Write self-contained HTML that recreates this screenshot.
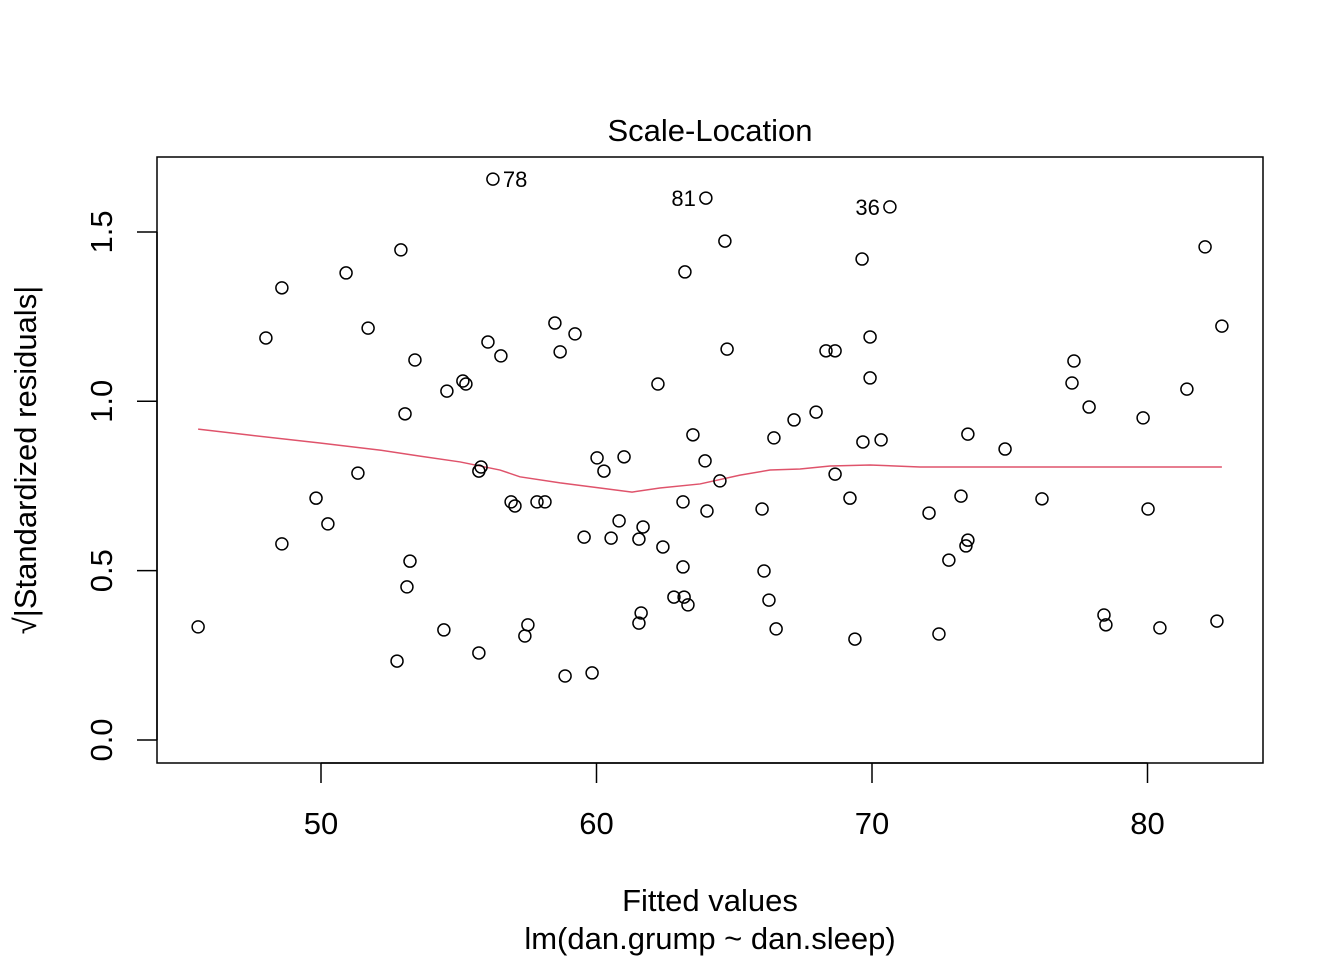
<!DOCTYPE html>
<html><head><meta charset="utf-8"><style>
html,body{margin:0;padding:0;background:#fff}
svg text{font-family:"Liberation Sans",Arial,sans-serif;fill:#000}
</style></head><body>
<svg id="chart" width="1344" height="960" xmlns="http://www.w3.org/2000/svg">
<rect width="1344" height="960" fill="#fff"/>
<text x="710" y="141" font-size="31" text-anchor="middle">Scale-Location</text>
<rect x="157" y="157" width="1106" height="606" fill="none" stroke="#000" stroke-width="1.5"/>
<text x="710" y="911" font-size="31" text-anchor="middle">Fitted values</text>
<text x="710" y="949" font-size="31" text-anchor="middle">lm(dan.grump ~ dan.sleep)</text>
<g transform="translate(36,460) rotate(-90)">
<text x="0" y="0" font-size="31" text-anchor="middle">√|Standardized residuals|</text>
</g>
<g id="xaxis"></g>
<g id="yaxis"></g>
<g id="smooth"></g>
<g id="pts"></g>
<g id="labels"></g>
</svg>
<script>
const xTicks=[50,60,70,80];
const yTicks=[0.0,0.5,1.0,1.5];
const yTickLabels=["0.0","0.5","1.0","1.5"];
const fitted=[45.54,48.00,48.58,48.58,49.82,50.25,50.91,51.34,51.71,52.76,52.90,53.05,53.12,53.23,53.41,54.46,54.57,55.15,55.26,55.73,55.81,55.73,56.06,56.24,56.53,56.90,57.04,57.40,57.51,57.84,58.13,58.49,58.68,58.86,59.22,59.55,59.84,60.02,60.27,60.53,60.82,61.00,61.54,61.54,61.62,61.69,62.23,62.41,62.81,63.14,63.14,63.18,63.32,63.21,63.50,63.97,63.94,64.01,64.48,64.66,64.74,66.01,66.08,66.26,66.44,66.52,67.17,67.97,68.33,68.66,68.66,69.20,69.38,69.64,69.67,69.93,69.93,70.33,70.65,72.07,72.43,72.79,73.23,73.41,73.48,73.48,74.83,76.17,77.26,77.33,77.88,78.42,78.49,79.84,80.02,80.45,81.43,82.09,82.52,82.70];
const sqrtRes=[0.334,1.187,1.335,0.579,0.714,0.638,1.379,0.788,1.216,0.233,1.447,0.963,0.452,0.528,1.122,0.325,1.030,1.060,1.051,0.794,0.806,0.257,1.175,1.656,1.134,0.703,0.691,0.307,0.340,0.703,0.703,1.231,1.146,0.189,1.199,0.599,0.198,0.833,0.794,0.596,0.647,0.836,0.593,0.345,0.375,0.629,1.051,0.570,0.422,0.703,0.511,0.422,0.399,1.382,0.901,1.600,0.824,0.676,0.765,1.473,1.154,0.682,0.499,0.413,0.892,0.328,0.945,0.968,1.149,1.149,0.785,0.714,0.298,1.420,0.880,1.190,1.069,0.886,1.574,0.670,0.313,0.531,0.720,0.573,0.590,0.903,0.859,0.712,1.054,1.119,0.983,0.369,0.340,0.951,0.682,0.331,1.036,1.456,0.351,1.222];
const smoothX=[45.54,47.42,49.96,52.14,53.59,55.05,56.50,57.22,58.68,60.13,61.29,62.30,63.76,65.21,66.30,67.39,68.48,69.93,71.74,74.65,82.70];
const smoothY=[0.918,0.900,0.877,0.856,0.838,0.821,0.797,0.777,0.759,0.744,0.732,0.744,0.756,0.782,0.797,0.800,0.809,0.812,0.806,0.806,0.806];
const labelNames=["78","81","36"];
const labelX=[56.24,63.97,70.65];
const labelY=[1.656,1.600,1.574];
const labelSide=[1,-1,-1];

const xs=v=>321+(v-50)*27.55;
const ys=v=>740-v*338.7;
const NS="http://www.w3.org/2000/svg";
function mk(tag,attrs,parent){const e=document.createElementNS(NS,tag);for(const k in attrs)e.setAttribute(k,attrs[k]);parent.appendChild(e);return e;}
const xa=document.getElementById('xaxis'),ya=document.getElementById('yaxis');
mk('line',{x1:xs(xTicks[0]),x2:xs(xTicks[xTicks.length-1]),y1:763,y2:763,stroke:'#000','stroke-width':1.5},xa);
xTicks.forEach(t=>{
 const l=mk('line',{x1:xs(t),x2:xs(t),y1:763,y2:783,stroke:'#000','stroke-width':1.5},xa);
 
 
 const tx=mk('text',{x:xs(t),y:834,'font-size':31,'text-anchor':'middle'},xa);tx.textContent=t;
 
 
});
yTicks.forEach((t,i)=>{
 const l=mk('line',{x1:137,x2:157,y1:ys(t),y2:ys(t),stroke:'#000','stroke-width':1.5},ya);
 
 
 const tx=mk('text',{x:0,y:0,'font-size':31,'text-anchor':'middle',transform:`translate(112,${ys(t)}) rotate(-90)`},ya);tx.textContent=yTickLabels[i];
 
 
});
mk('line',{x1:157,x2:157,y1:ys(yTicks[0]),y2:ys(yTicks[yTicks.length-1]),stroke:'#000','stroke-width':1.5},ya);
const sm=document.getElementById('smooth');
const pl=mk('polyline',{points:smoothX.map((x,i)=>xs(x)+','+ys(smoothY[i])).join(' '),fill:'none',stroke:'#DF536B','stroke-width':1.5},sm);


const pg=document.getElementById('pts');
fitted.forEach((x,i)=>{
 const c=mk('circle',{cx:xs(x),cy:ys(sqrtRes[i]),r:6,fill:'none',stroke:'#000','stroke-width':1.5},pg);
 
 
});
const lg=document.getElementById('labels');
labelNames.forEach((n,i)=>{
 const s=labelSide[i];
 const t=mk('text',{x:xs(labelX[i])+s*10,y:ys(labelY[i])+8,'font-size':22,'text-anchor':s>0?'start':'end'},lg);
 t.textContent=n;
 
 
});
</script>
</body></html>
